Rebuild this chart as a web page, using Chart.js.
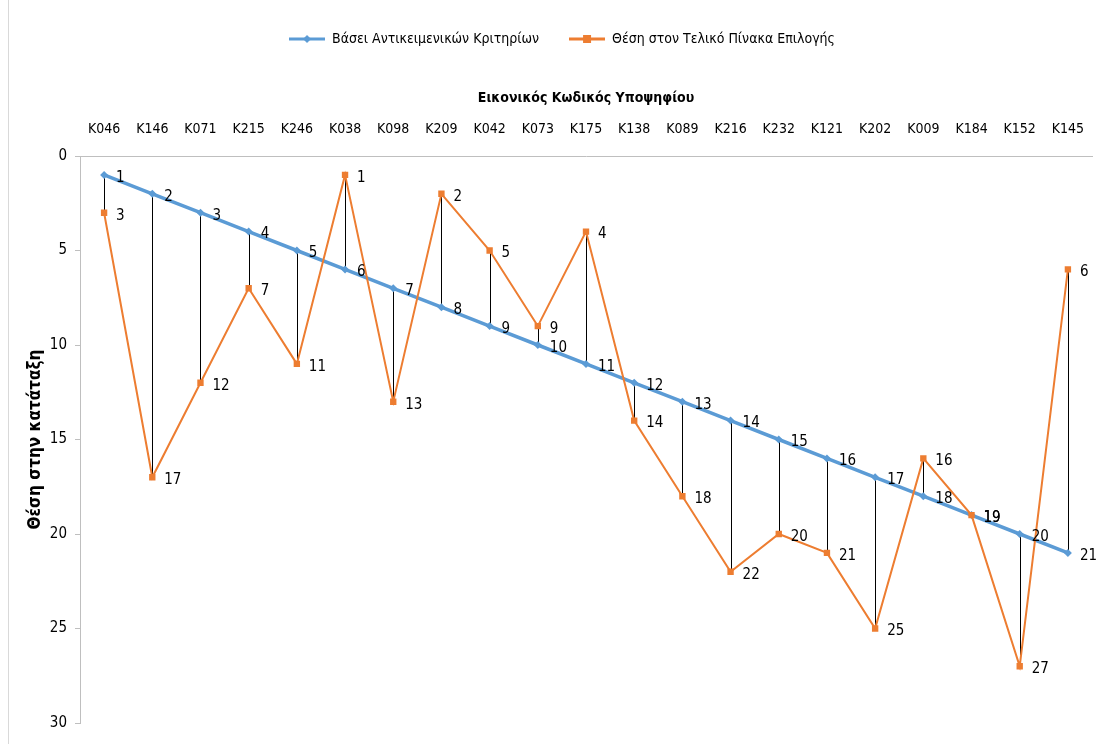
<!DOCTYPE html>
<html lang="el">
<head>
  <meta charset="UTF-8" />
  <title>Θέση στην κατάταξη</title>
  <style>
    body {
      margin: 0;
      background: #fff;
    }

    .frame {
      position: relative;
      width: 1102px;
      height: 744px;
    }

    .frame::before {
      content: '';
      position: absolute;
      left: 8px;
      top: 0;
      bottom: 0;
      border-left: 1px solid #d9d9d9;
    }

    canvas {
      display: block;
    }
  </style>
</head>
<body>
  <div class="frame">
    <canvas id="rankChart" width="1102" height="744"></canvas>
  </div>

  <script src="https://cdn.jsdelivr.net/npm/chart.js"></script>
  <script>
    const codes = ['K046', 'K146', 'K071', 'K215', 'K246', 'K038', 'K098', 'K209', 'K042', 'K073', 'K175',
                   'K138', 'K089', 'K216', 'K232', 'K121', 'K202', 'K009', 'K184', 'K152', 'K145'];
    const objectiveRank = [1, 2, 3, 4, 5, 6, 7, 8, 9, 10, 11, 12, 13, 14, 15, 16, 17, 18, 19, 20, 21];
    const finalRank = [3, 17, 12, 7, 11, 1, 13, 2, 5, 9, 4, 14, 18, 22, 20, 21, 25, 16, 19, 27, 6];
    const rankTicks = [0, 5, 10, 15, 20, 25, 30];

    const FONT = "'Liberation Sans Narrow', 'DejaVu Sans Condensed', sans-serif";
    const BLUE = '#5b9bd5';
    const ORANGE = '#ed7d31';

    // legend icon: short line with the series marker in the middle
    function legendIcon(color, style) {
      const c = document.createElement('canvas');
      c.width = 36;
      c.height = 10;
      const g = c.getContext('2d');
      g.strokeStyle = color;
      g.lineWidth = 3;
      g.beginPath();
      g.moveTo(0, 5);
      g.lineTo(36, 5);
      g.stroke();
      g.fillStyle = color;
      if (style === 'rect') {
        g.fillRect(14, 1, 8, 8);
      } else {
        g.beginPath();
        g.moveTo(18, 1); g.lineTo(22, 5); g.lineTo(18, 9); g.lineTo(14, 5);
        g.closePath();
        g.fill();
      }
      return c;
    }
    const legendIcons = [legendIcon(BLUE, 'rectRot'), legendIcon(ORANGE, 'rect')];

    // the legend sits a little right of centre in the original
    const legendShift = {
      id: 'legendShift',
      afterLayout(chart) {
        chart.legend.left += 12;
        chart.legend.right += 12;
      }
    };

    // thin black lines joining the two ranks of each candidate
    const dropLines = {
      id: 'dropLines',
      beforeDatasetsDraw(chart) {
        const ctx = chart.ctx;
        const a = chart.getDatasetMeta(0).data;
        const b = chart.getDatasetMeta(1).data;
        ctx.save();
        ctx.strokeStyle = '#000';
        ctx.lineWidth = 1;
        a.forEach((p, i) => {
          const x = Math.round(p.x) + 0.5;
          ctx.beginPath();
          ctx.moveTo(x, p.y);
          ctx.lineTo(x, b[i].y);
          ctx.stroke();
        });
        ctx.restore();
      }
    };

    // value labels to the right of each point
    const pointLabels = {
      id: 'pointLabels',
      afterDatasetsDraw(chart) {
        const ctx = chart.ctx;
        ctx.save();
        ctx.font = '15px ' + FONT;
        ctx.fillStyle = '#000';
        ctx.textBaseline = 'middle';
        ctx.textAlign = 'left';
        chart.data.datasets.forEach((ds, d) => {
          chart.getDatasetMeta(d).data.forEach((p, i) => {
            ctx.fillText(ds.data[i], p.x + 12, p.y + 3);
          });
        });
        ctx.restore();
      }
    };

    const ctx = document.getElementById('rankChart').getContext('2d');
    new Chart(ctx, {
      type: 'line',
      data: {
        labels: codes,
        datasets: [
          {
            label: 'Βάσει Αντικειμενικών Κριτηρίων',
            data: objectiveRank,
            borderColor: BLUE,
            backgroundColor: BLUE,
            borderWidth: 3.5,
            pointStyle: 'rectRot',
            pointRadius: 4,
            pointBorderWidth: 0,
            tension: 0,
            order: 2
          },
          {
            label: 'Θέση στον Τελικό Πίνακα Επιλογής',
            data: finalRank,
            borderColor: ORANGE,
            backgroundColor: ORANGE,
            borderWidth: 2,
            pointStyle: 'rect',
            pointRadius: 4.5,
            pointBorderWidth: 0,
            tension: 0,
            order: 1
          }
        ]
      },
      options: {
        responsive: false,
        animation: false,
        layout: { padding: { left: 8, right: 10, top: 2, bottom: 21 } },
        plugins: {
          tooltip: { enabled: false },
          legend: {
            position: 'top',
            labels: {
              usePointStyle: true,
              pointStyleWidth: 36,
              padding: 30,
              color: '#000',
              font: { family: FONT, size: 14 },
              sort: (a, b) => a.datasetIndex - b.datasetIndex,
              generateLabels(chart) {
                const items = Chart.defaults.plugins.legend.labels.generateLabels(chart);
                items.forEach(it => { it.pointStyle = legendIcons[it.datasetIndex]; });
                return items;
              }
            }
          }
        },
        scales: {
          x: {
            position: 'top',
            offset: true,
            grid: { display: false },
            border: { display: true, color: '#bfbfbf' },
            ticks: { color: '#000', padding: 10, maxRotation: 0, autoSkip: false, font: { family: FONT, size: 14 } },
            title: {
              display: true,
              text: 'Εικονικός Κωδικός Υποψηφίου',
              color: '#000',
              padding: { top: 34, bottom: 0 },
              font: { family: FONT, size: 14, weight: 'bold' }
            },
            afterFit(scale) {
              scale.height = 156 - 2 - scale.chart.legend.height;
            }
          },
          y: {
            reverse: true,
            min: 0,
            max: 30,
            afterBuildTicks(scale) {
              scale.ticks = rankTicks.map(v => ({ value: v }));
            },
            grid: { drawOnChartArea: false, drawTicks: true, tickLength: 5, color: '#bfbfbf' },
            border: { display: true, color: '#bfbfbf' },
            ticks: { color: '#000', padding: 8, font: { family: FONT, size: 15 } },
            title: {
              display: true,
              text: 'Θέση στην κατάταξη',
              color: '#000',
              padding: { top: 17, bottom: 0 },
              font: { family: FONT, size: 17, weight: 'bold' }
            },
            afterFit(scale) {
              scale.width = 72;
            }
          }
        }
      },
      plugins: [legendShift, dropLines, pointLabels]
    });
  </script>
</body>
</html>
